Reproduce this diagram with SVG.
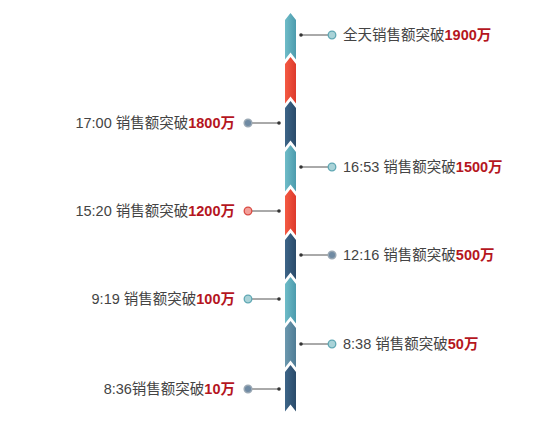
<svg xmlns="http://www.w3.org/2000/svg" width="549" height="443" viewBox="0 0 549 443">
<defs>
<linearGradient id="gT" x1="0" x2="1" y1="0" y2="0"><stop offset="0" stop-color="#6fbcc8"/><stop offset="1" stop-color="#4c9bad"/></linearGradient>
<linearGradient id="gR" x1="0" x2="1" y1="0" y2="0"><stop offset="0" stop-color="#f45a43"/><stop offset="1" stop-color="#dd3a2c"/></linearGradient>
<linearGradient id="gN" x1="0" x2="1" y1="0" y2="0"><stop offset="0" stop-color="#3d6588"/><stop offset="1" stop-color="#2a4b6a"/></linearGradient>
<linearGradient id="gG" x1="0" x2="1" y1="0" y2="0"><stop offset="0" stop-color="#6c98ae"/><stop offset="1" stop-color="#4f7c95"/></linearGradient>
<path id="seg" d="M285,7 L290.5,0 L296,7 L296,46.5 L290.5,39.5 L285,46.5 Z"/>
</defs>
<style>
text{font-family:"Liberation Sans","Noto Sans CJK SC",sans-serif;font-size:14.5px;fill:#444}
.n{font-weight:bold;fill:#b5161e}
.ln{stroke:#555;stroke-width:1}
.dot{fill:#333}
.ringT{fill:#a9d3d8;stroke:#5fa7b3;stroke-width:1.3}
.ringR{fill:#f3a09a;stroke:#d94a42;stroke-width:1.3}
.ringN{fill:#6f8aa3;stroke:#9aa8b4;stroke-width:1.5}
</style>
<rect width="549" height="443" fill="#ffffff"/>
<g id="bar">
<use href="#seg" y="13" fill="url(#gT)"/>
<use href="#seg" y="57" fill="url(#gR)"/>
<use href="#seg" y="101" fill="url(#gN)"/>
<use href="#seg" y="145" fill="url(#gT)"/>
<use href="#seg" y="189" fill="url(#gR)"/>
<use href="#seg" y="233" fill="url(#gN)"/>
<use href="#seg" y="277" fill="url(#gT)"/>
<use href="#seg" y="321" fill="url(#gG)"/>
<use href="#seg" y="365" fill="url(#gN)"/>
</g>
<g id="connectors">
<line class="ln" x1="301" y1="35" x2="328" y2="35"/><circle class="dot" cx="301" cy="35" r="1.8"/>
<line class="ln" x1="252" y1="123" x2="279" y2="123"/><circle class="dot" cx="279" cy="123" r="1.8"/>
<line class="ln" x1="301" y1="167" x2="328" y2="167"/><circle class="dot" cx="301" cy="167" r="1.8"/>
<line class="ln" x1="252" y1="211" x2="279" y2="211"/><circle class="dot" cx="279" cy="211" r="1.8"/>
<line class="ln" x1="301" y1="255" x2="328" y2="255"/><circle class="dot" cx="301" cy="255" r="1.8"/>
<line class="ln" x1="252" y1="299" x2="279" y2="299"/><circle class="dot" cx="279" cy="299" r="1.8"/>
<line class="ln" x1="301" y1="344" x2="328" y2="344"/><circle class="dot" cx="301" cy="344" r="1.8"/>
<line class="ln" x1="252" y1="389" x2="279" y2="389"/><circle class="dot" cx="279" cy="389" r="1.8"/>
</g>
<g id="n1"><circle class="ringT" cx="332" cy="35" r="3.8"/><text x="343" y="40">全天销售额突破<tspan class="n">1900万</tspan></text></g>
<g id="n2"><circle class="ringN" cx="248" cy="123" r="3.8"/><text x="235" y="128" text-anchor="end">17:00 销售额突破<tspan class="n">1800万</tspan></text></g>
<g id="n3"><circle class="ringT" cx="332" cy="167" r="3.8"/><text x="343" y="172">16:53 销售额突破<tspan class="n">1500万</tspan></text></g>
<g id="n4"><circle class="ringR" cx="248" cy="211" r="3.8"/><text x="235" y="216" text-anchor="end">15:20 销售额突破<tspan class="n">1200万</tspan></text></g>
<g id="n5"><circle class="ringN" cx="332" cy="255" r="3.8"/><text x="343" y="260">12:16 销售额突破<tspan class="n">500万</tspan></text></g>
<g id="n6"><circle class="ringT" cx="248" cy="299" r="3.8"/><text x="235" y="304" text-anchor="end">9:19 销售额突破<tspan class="n">100万</tspan></text></g>
<g id="n7"><circle class="ringT" cx="332" cy="344" r="3.8"/><text x="343" y="349">8:38 销售额突破<tspan class="n">50万</tspan></text></g>
<g id="n8"><circle class="ringN" cx="248" cy="389" r="3.8"/><text x="235" y="394" text-anchor="end">8:36销售额突破<tspan class="n">10万</tspan></text></g>
</svg>
